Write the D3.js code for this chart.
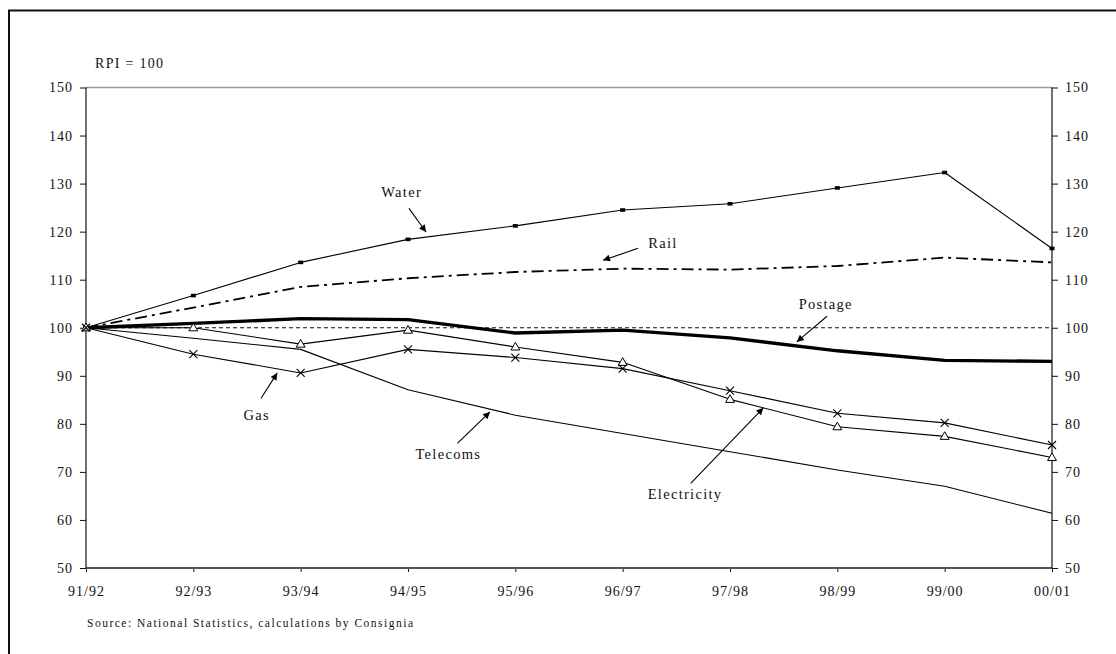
<!DOCTYPE html>
<html>
<head>
<meta charset="utf-8">
<script src="https://cdn.jsdelivr.net/npm/d3@7"></script>
<style>
  html, body { margin: 0; padding: 0; background: #fff; }
  svg { display: block; }
  svg text { font-family: "Liberation Serif", "Times New Roman", "DejaVu Serif", serif !important; fill: #111; }
</style>
</head>
<body>
<svg id="chart" width="1116" height="654"></svg>
<script>
// ---- Data ----
const categories = ["91/92","92/93","93/94","94/95","95/96","96/97","97/98","98/99","99/00","00/01"];
const water       = [100, 106.7, 113.6, 118.4, 121.2, 124.5, 125.8, 129.1, 132.3, 116.5];
const rail        = [100, 104.2, 108.5, 110.3, 111.6, 112.3, 112.1, 112.85, 114.6, 113.6];
const postage     = [100, 100.9, 101.9, 101.7, 98.9, 99.5, 97.9, 95.2, 93.2, 93.0];
const electricity = [100, 100.0, 96.6, 99.5, 96.0, 92.8, 85.1, 79.4, 77.4, 73.0];
const gas         = [100, 94.5, 90.6, 95.5, 93.8, 91.5, 86.9, 82.2, 80.2, 75.6];
const telecoms    = [100, 97.8, 95.5, 87.1, 81.8, 78.0, 74.2, 70.4, 67.0, 61.4];
const rpiLine     = [100, 100];
const yTicks      = [50, 60, 70, 80, 90, 100, 110, 120, 130, 140, 150];
const seriesNames = ["Water", "Rail", "Postage", "Gas", "Telecoms", "Electricity"];

// ---- Layout ----
const FONT = "'Liberation Serif', 'Times New Roman', 'DejaVu Serif', serif";
const svg = d3.select("#chart");
const L = 86, R = 1052, T = 87.5, B = 568;

const x = d3.scalePoint().domain(categories).range([L, R]).padding(0);
const xi = d3.scaleLinear().domain([0, categories.length - 1]).range([L, R]);
const y = d3.scaleLinear().domain([50, 150]).range([B, T]);

// outer frame
svg.append("rect").attr("x", 9).attr("y", 10.5).attr("width", 1200).attr("height", 700)
  .attr("fill", "none").attr("stroke", "#111").attr("stroke-width", 2);

// plot frame: gray top
svg.append("line").attr("x1", L).attr("x2", R).attr("y1", T).attr("y2", T)
  .attr("stroke", "#999").attr("stroke-width", 1.5);

// axes
const leftAxis = d3.axisLeft(y).tickValues(yTicks).tickSize(6).tickPadding(7).tickFormat(d3.format("d"));
const rightAxis = d3.axisRight(y).tickValues(yTicks).tickSize(6).tickPadding(7).tickFormat(d3.format("d"));
const bottomAxis = d3.axisBottom(x).tickSize(4).tickPadding(14);

function styleAxis(g) {
  g.attr("font-family", FONT);
  g.selectAll("text").attr("font-size", 14).attr("letter-spacing", 1)
    .style("font-family", FONT).attr("fill", "#111");
  g.selectAll(".tick line").attr("stroke", "#111");
}
const gl = svg.append("g").attr("transform", `translate(${L},0)`).call(leftAxis);
gl.select(".domain").remove();
styleAxis(gl);
const gr = svg.append("g").attr("transform", `translate(${R},0)`).call(rightAxis);
gr.select(".domain").remove();
styleAxis(gr);
const gb = svg.append("g").attr("transform", `translate(0,${B})`).call(bottomAxis);
gb.select(".domain").remove();
styleAxis(gb);
gb.selectAll("text").attr("dy", "0.71em");

svg.append("line").attr("x1", L).attr("x2", R).attr("y1", B).attr("y2", B)
  .attr("stroke", "#555").attr("stroke-width", 2);
svg.append("line").attr("x1", L).attr("x2", L).attr("y1", T).attr("y2", B)
  .attr("stroke", "#111").attr("stroke-width", 1.2);
svg.append("line").attr("x1", R).attr("x2", R).attr("y1", T).attr("y2", B)
  .attr("stroke", "#111").attr("stroke-width", 1.2);

// RPI = 100 reference
svg.append("line")
  .attr("x1", x(categories[0])).attr("x2", x(categories[categories.length - 1]))
  .attr("y1", y(rpiLine[0])).attr("y2", y(rpiLine[1]))
  .attr("stroke", "#111").attr("stroke-width", 1).attr("stroke-dasharray", "4,3");

const line = d3.line().x((d, i) => x(categories[i])).y(d => y(d));

function drawLine(vals, width, dash) {
  svg.append("path").datum(vals).attr("d", line).attr("fill", "none")
    .attr("stroke", "#000").attr("stroke-width", width)
    .attr("stroke-dasharray", dash || null).attr("stroke-linejoin", "round");
}
drawLine(telecoms, 1.1);
drawLine(gas, 1.1);
drawLine(electricity, 1.1);
drawLine(water, 1.1);
drawLine(rail, 1.8, "12,5,3,5");
drawLine(postage, 3.4);

// markers
svg.append("g").selectAll("rect").data(water).join("rect")
  .attr("x", (d, i) => x(categories[i]) - 2.5).attr("y", d => y(d) - 1.8)
  .attr("width", 5).attr("height", 3.6).attr("fill", "#000");

const tri = d3.symbol().type(d3.symbolTriangle).size(34);
svg.append("g").selectAll("path").data(electricity).join("path")
  .attr("d", tri)
  .attr("transform", (d, i) => `translate(${x(categories[i])},${y(d) + 0.5})`)
  .attr("fill", "#fff").attr("stroke", "#000").attr("stroke-width", 1);

const xs = 4;
const gx = svg.append("g").selectAll("g").data(gas).join("g")
  .attr("transform", (d, i) => `translate(${x(categories[i])},${y(d)})`);
gx.append("path").attr("d", `M${-xs},${-xs}L${xs},${xs}M${-xs},${xs}L${xs},${-xs}`)
  .attr("stroke", "#000").attr("stroke-width", 1.1).attr("fill", "none");

// annotations (positioned via scales: index, value)
const defs = svg.append("defs");
defs.append("marker").attr("id", "ah").attr("viewBox", "0 0 10 10")
  .attr("refX", 10).attr("refY", 5).attr("markerWidth", 11).attr("markerHeight", 7)
  .attr("markerUnits", "userSpaceOnUse").attr("orient", "auto")
  .append("path").attr("d", "M0,0L10,5L0,10z").attr("fill", "#000");

const notes = [
  { t: seriesNames[0], tx: 2.941, tv: 128.23, a: [3.009, 124.84, 3.168, 119.92] },
  { t: seriesNames[1], tx: 5.376, tv: 117.63, a: [5.143, 116.53, 4.817, 114.03] },
  { t: seriesNames[2], tx: 6.892, tv: 105.03, a: [6.904, 102.39, 6.622, 97.05] },
  { t: seriesNames[3], tx: 1.590, tv: 81.81,  a: [1.630, 85.28, 1.782, 90.60] },
  { t: seriesNames[4], tx: 3.376, tv: 73.70,  a: [3.460, 75.93, 3.764, 82.49] },
  { t: seriesNames[5], tx: 5.581, tv: 65.32,  a: [5.634, 67.61, 6.311, 83.33] }
];
notes.forEach(n => {
  svg.append("text").attr("x", xi(n.tx)).attr("y", y(n.tv) + 5)
    .attr("text-anchor", "middle").attr("font-size", 14.5).attr("letter-spacing", 1.3)
    .style("font-family", FONT).text(n.t);
  svg.append("line").attr("x1", xi(n.a[0])).attr("y1", y(n.a[1]))
    .attr("x2", xi(n.a[2])).attr("y2", y(n.a[3]))
    .attr("stroke", "#000").attr("stroke-width", 1.1).attr("marker-end", "url(#ah)");
});

// texts
svg.append("text").attr("x", 95).attr("y", 67.5).attr("font-size", 14).attr("letter-spacing", 1.3)
  .style("font-family", FONT).text("RPI = 100");
svg.append("text").attr("x", 87).attr("y", 627).attr("font-size", 11.5).attr("letter-spacing", 1.5)
  .style("font-family", FONT).text("Source:  National Statistics, calculations by Consignia");
</script>
</body>
</html>
